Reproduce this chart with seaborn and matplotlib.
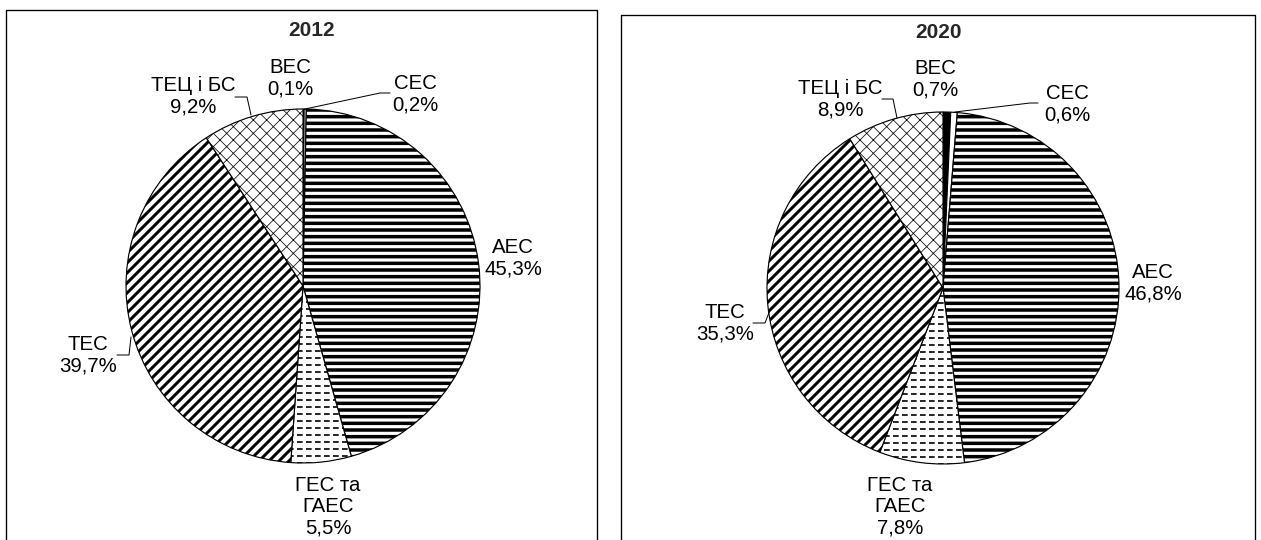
"""
Структура виробництва електроенергії, 2012 та 2020.
Two hatched b/w pies, each in its own open box.
"""
import matplotlib
matplotlib.use("Agg")
import matplotlib.pyplot as plt
import seaborn as sns

W, H = 1261, 540
DPI = 120

# %% Data
sources = ["ВЕС", "СЕС", "АЕС", "ГЕС та\nГАЕС", "ТЕС", "ТЕЦ і БС"]
share_2012 = [0.1, 0.2, 45.3, 5.5, 39.7, 9.2]
share_2020 = [0.7, 0.6, 46.8, 7.8, 35.3, 8.9]
years = ["2012", "2020"]

# %% Style
sns.set_style("white")
plt.rcParams["font.family"] = ["Liberation Sans", "DejaVu Sans"]
plt.rcParams["hatch.linewidth"] = 1.5
FS = 12.2

# face, hatch, hatch linewidth for every source (same order as sources)
wedge_styles = [
    ("black", "", None),
    ("white", "", None),
    ("white", "---", 2.1),
    ("white", "", None),
    ("white", "////", 1.8),
    ("white", "xxx", 0.45),
]

# layout in pixels (x, y from top-left)
panels = {
    "2012": dict(
        center=(303, 286), radius=177, box=(6, 10, 597), title=(312, 30),
        labels=[(290, 78), (415, 94), (513, 258), (328, 507), (88, 355), (193, 96)],
        leaders={1: [(305, 109), (380, 93), (390, 93)],
                 4: [(117, 355), (129, 355), (131, 337)],
                 5: [(235, 97), (247, 97), (251, 115)]},
    ),
    "2020": dict(
        center=(943, 288), radius=176, box=(621, 15, 1255), title=(938, 33),
        labels=[(935, 79), (1067, 104), (1153, 283), (900, 507), (725, 323), (840, 99)],
        leaders={1: [(955, 112), (1030, 103), (1038, 103)],
                 4: [(753, 323), (765, 323), (770, 310)],
                 5: [(882, 99), (893, 99), (897, 118)]},
    ),
}


def fy(y):
    return H - y


def pct(v):
    return f"{v:.1f}".replace(".", ",") + "%"


fig = plt.figure(figsize=(W / DPI, H / DPI), dpi=DPI)
ax = fig.add_axes([0, 0, 1, 1])

for year, values in zip(years, [share_2012, share_2020]):
    p = panels[year]
    cx, cy = p["center"]
    r = p["radius"]
    wedges, _ = ax.pie(
        values, startangle=90, counterclock=False,
        center=(cx, fy(cy)), radius=r, frame=True,
        wedgeprops=dict(edgecolor="black", linewidth=0.7),
    )
    for i, (w, (face, hatch, hlw)) in enumerate(zip(wedges, wedge_styles)):
        w.set_facecolor(face)
        if hatch:
            w.set_hatch(hatch)
            if hasattr(w, "set_hatch_linewidth"):
                w.set_hatch_linewidth(hlw)

    # dashed horizontal fill for ГЕС та ГАЕС
    gw = wedges[3]
    ys = [fy(cy) - r + k * 7.0 for k in range(int(2 * r / 7.0) + 1)]
    lc = ax.hlines(ys, cx - r, cx + r, colors="black", linewidth=1.0,
                   linestyles=(0, (3.4, 2.0)), zorder=gw.get_zorder() + 0.1)
    lc.set_clip_path(gw)

    # labels
    for i, (name, v) in enumerate(zip(sources, values)):
        lx, ly = p["labels"][i]
        ax.text(lx, fy(ly), f"{name}\n{pct(v)}", ha="center", va="center",
                fontsize=FS, linespacing=1.15, color="black")

    for pts in p["leaders"].values():
        ax.plot([q[0] for q in pts], [fy(q[1]) for q in pts],
                color="black", linewidth=0.6)

    tx, ty = p["title"]
    ax.text(tx, fy(ty), year, ha="center", va="center",
            fontsize=FS + 0.3, fontweight="bold")

    x0, y0, x1 = p["box"]
    ax.plot([x0, x0, x1, x1], [fy(560), fy(y0), fy(y0), fy(560)],
            color="black", linewidth=0.8)

ax.set_xlim(0, W)
ax.set_ylim(0, H)
ax.set_aspect("auto")
ax.axis("off")

fig.savefig("out.png", dpi=DPI, facecolor="white")
